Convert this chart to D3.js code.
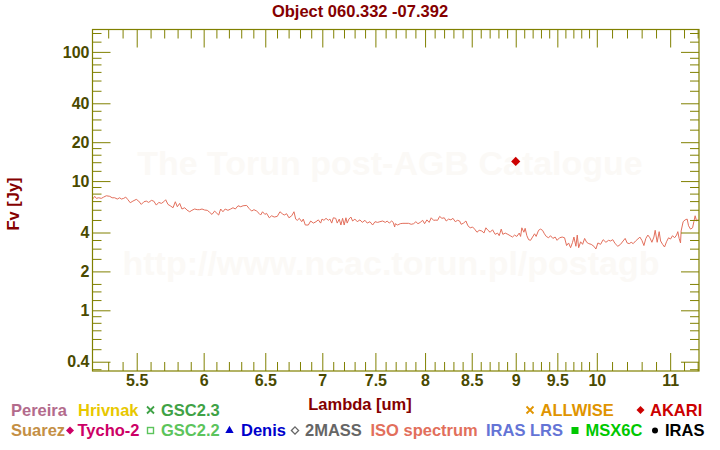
<!DOCTYPE html>
<html>
<head>
<meta charset="utf-8">
<script src="https://cdn.jsdelivr.net/npm/d3@7"></script>
<style>
  html, body { margin: 0; padding: 0; background: #ffffff; }
  svg { display: block; font-family: "Liberation Sans", Arial, Helvetica, sans-serif; font-weight: bold; }
</style>
</head>
<body>
<svg id="chart" width="720" height="450"></svg>
<script>
// ---------------- DATA ----------------
const chartTitle = "Object 060.332 -07.392";
const xTitle = "Lambda [um]";
const yTitle = "Fv [Jy]";
const watermarkLines = ["The Torun post-AGB Catalogue", "http://www.ncac.torun.pl/postagb"];

// ISO spectrum: wavelength (um)
const isoLambda = [
  5.194,5.208,5.219,5.235,5.253,5.269,5.287,5.311,5.327,5.345,5.363,5.380,5.391,5.408,5.422,5.438,5.454,5.473,5.497,5.514,
  5.533,5.552,5.569,5.586,5.606,5.623,5.642,5.660,5.679,5.697,5.711,5.728,5.745,5.766,5.783,5.798,5.816,5.833,5.854,5.871,
  5.892,5.909,5.930,5.950,5.969,5.987,6.008,6.028,6.047,6.065,6.086,6.104,6.118,6.134,6.152,6.170,6.192,6.215,6.233,6.252,
  6.274,6.296,6.315,6.345,6.364,6.386,6.405,6.428,6.447,6.461,6.477,6.497,6.511,6.534,6.554,6.576,6.602,6.625,6.645,6.662,
  6.683,6.703,6.727,6.747,6.762,6.776,6.794,6.815,6.829,6.847,6.874,6.895,6.919,6.943,6.964,6.985,6.997,7.015,7.034,7.055,
  7.070,7.086,7.101,7.123,7.137,7.156,7.171,7.187,7.202,7.218,7.230,7.246,7.265,7.281,7.303,7.325,7.351,7.373,7.399,7.421,
  7.447,7.473,7.496,7.522,7.544,7.571,7.597,7.616,7.636,7.660,7.676,7.690,7.696,7.720,7.746,7.773,7.804,7.831,7.857,7.882,
  7.905,7.926,7.950,7.975,7.995,8.019,8.043,8.064,8.089,8.113,8.131,8.153,8.177,8.202,8.223,8.248,8.273,8.295,8.320,8.345,
  8.367,8.384,8.410,8.436,8.458,8.483,8.510,8.532,8.558,8.583,8.613,8.636,8.658,8.681,8.706,8.733,8.763,8.790,8.809,8.832,
  8.851,8.878,8.909,8.935,8.963,8.986,9.013,9.041,9.057,9.072,9.096,9.111,9.131,9.152,9.175,9.199,9.223,9.242,9.271,9.295,
  9.319,9.342,9.364,9.393,9.416,9.445,9.473,9.497,9.527,9.560,9.590,9.615,9.640,9.665,9.690,9.707,9.732,9.749,9.767,9.792,
  9.817,9.843,9.869,9.897,9.927,9.962,9.988,10.014,10.049,10.083,10.119,10.154,10.180,10.210,10.241,10.277,10.313,10.348,10.375,10.402,
  10.430,10.457,10.484,10.517,10.548,10.575,10.603,10.631,10.658,10.686,10.714,10.742,10.770,10.788,10.816,10.844,10.864,10.892,10.920,10.948,
  10.977,11.005,11.034,11.063,11.092,11.110,11.129,11.149,11.158,11.187,11.216,11.246,11.266,11.295,11.325,11.344,11.363,11.384,11.403,11.422
];
// ISO spectrum: flux density (Jy)
const isoFlux = [
  7.26,7.62,7.35,7.43,7.35,7.52,7.70,7.62,7.43,7.43,7.26,7.43,7.26,7.35,7.52,7.17,6.80,7.00,7.22,7.00,
  6.60,6.92,7.00,6.84,7.09,7.00,6.52,6.84,6.72,6.92,7.17,6.60,6.44,6.22,6.92,6.33,6.72,6.08,6.22,5.97,
  5.79,5.94,6.08,6.01,6.01,6.08,5.97,5.94,5.73,5.52,5.86,5.63,5.46,6.08,5.79,6.08,5.94,6.08,6.22,6.08,
  6.44,6.33,6.44,6.48,6.15,5.86,6.01,5.86,5.63,5.46,5.79,5.52,5.63,5.20,5.39,5.27,5.33,5.79,5.59,5.46,
  5.59,5.20,5.39,5.79,5.08,4.97,5.15,4.85,5.08,4.57,4.57,4.91,4.73,4.85,5.01,4.73,5.08,4.97,5.15,4.97,
  5.08,4.73,5.20,5.15,4.73,5.08,4.57,5.15,4.57,5.20,4.73,5.08,5.27,4.91,5.08,4.85,5.01,4.79,4.97,4.73,
  4.85,4.57,4.85,4.79,4.85,4.91,4.79,4.91,4.73,4.91,4.79,4.41,4.68,4.57,4.68,4.71,4.71,4.71,4.63,4.68,
  4.85,4.68,4.79,4.97,4.68,5.01,4.79,5.20,4.97,4.99,4.97,5.33,5.15,5.20,4.91,5.08,5.01,5.15,4.85,4.97,
  4.91,4.63,4.73,4.91,4.51,4.35,4.41,4.25,4.02,4.16,4.11,3.96,4.35,4.16,4.02,4.20,3.87,3.96,3.78,4.25,
  3.87,3.96,3.87,3.78,3.69,3.82,3.73,3.96,3.73,4.35,4.02,4.31,3.78,3.52,3.48,3.69,3.91,3.73,4.16,4.25,
  4.16,3.91,3.73,3.64,3.78,3.60,3.69,3.48,3.64,3.69,3.64,3.17,3.32,3.05,3.36,3.69,3.13,3.82,3.05,3.39,
  3.24,3.60,3.36,3.28,3.24,3.13,2.98,3.32,3.24,3.52,3.36,3.48,3.44,3.52,3.28,3.13,3.24,3.44,3.60,3.32,
  3.28,3.36,3.28,3.44,3.56,3.69,3.48,3.17,3.60,3.82,3.64,3.36,3.69,4.16,3.36,4.06,3.44,3.24,3.09,3.39,
  3.64,3.56,3.78,3.64,3.82,4.06,3.60,3.32,4.11,4.85,5.01,5.08,4.51,4.25,4.35,4.85,5.39,4.91,5.01,4.97
];

// AKARI photometry
const akariLambda = [9.0];
const akariFlux = [14.2];

// Axis ticks
const xMajorTicks = [5.5, 6, 6.5, 7, 7.5, 8, 8.5, 9, 9.5, 10, 11];
const xMinorTicks = [5.3, 5.4, 5.6, 5.7, 5.8, 5.9, 6.1, 6.2, 6.3, 6.4, 6.6, 6.7, 6.8, 6.9,
  7.1, 7.2, 7.3, 7.4, 7.6, 7.7, 7.8, 7.9, 8.1, 8.2, 8.3, 8.4, 8.6, 8.7, 8.8, 8.9,
  9.1, 9.2, 9.3, 9.4, 9.6, 9.7, 9.8, 9.9, 10.2, 10.4, 10.6, 10.8, 11.2, 11.4];
const yMajorTicks = [0.4, 1, 2, 4, 10, 20, 40, 100];
const yMinorTicks = [0.35, 0.5, 0.6, 0.7, 0.8, 0.9, 1.2, 1.4, 1.6, 2.5, 3, 3.5,
  5, 6, 7, 8, 9, 12, 14, 16, 18, 25, 30, 35, 50, 60, 70, 80, 90, 120, 140];

// Legend
const legendRow1 = ["Pereira", "Hrivnak", "GSC2.3", "ALLWISE", "AKARI"];
const legendRow1Colors = ["#b36b8c", "#e8c800", "#3fa246", "#e09400", "#cc0000"];
const legendRow1Markers = ["none", "none", "cross", "cross", "diamond"];
const legendRow2 = ["Suarez", "Tycho-2", "GSC2.2", "Denis", "2MASS", "ISO spectrum", "IRAS LRS", "MSX6C", "IRAS"];
const legendRow2Colors = ["#c48f45", "#cc0066", "#5cc45c", "#0000cc", "#666666", "#e26f5c", "#6474d6", "#00c800", "#000000"];
const legendRow2Markers = ["none", "diamond", "square-open", "triangle", "diamond-open", "none", "none", "square", "circle"];

// ---------------- LAYOUT ----------------
const plot = { left: 92.5, right: 699, top: 29.5, bottom: 371 };
const axisColor = "#808000";
const tickLabelColor = "#4a4a00";
const titleColor = "#850000";

const svg = d3.select("#chart");

const x = d3.scaleLog().domain([5.193, 11.42]).range([plot.left, plot.right]);
const y = d3.scaleLog().domain([0.339, 149]).range([plot.bottom, plot.top]);

// watermark
const wm = svg.append("g").attr("fill", "#fbf9f6").attr("font-size", 34).attr("text-anchor", "middle");
wm.append("text").attr("x", 390).attr("y", 175).text(watermarkLines[0]);
wm.append("text").attr("x", 391).attr("y", 275).text(watermarkLines[1]);

// clip
svg.append("clipPath").attr("id", "clip").append("rect")
  .attr("x", plot.left).attr("y", plot.top)
  .attr("width", plot.right - plot.left).attr("height", plot.bottom - plot.top);

// ISO line
const isoData = isoLambda.map((l, i) => [l, isoFlux[i]]);
svg.append("path")
  .datum(isoData)
  .attr("clip-path", "url(#clip)")
  .attr("fill", "none")
  .attr("stroke", "#e26f5c")
  .attr("stroke-width", 1)
  .attr("d", d3.line().x(d => x(d[0])).y(d => y(d[1])));

function diamondPath(r) { return `M0,${-r}L${r},0L0,${r}L${-r},0Z`; }

// AKARI points
svg.append("g").selectAll("path")
  .data(akariLambda.map((l, i) => [l, akariFlux[i]]))
  .join("path")
  .attr("transform", d => `translate(${x(d[0])},${y(d[1])})`)
  .attr("d", diamondPath(4.6))
  .attr("fill", "#cc0000");

// axes
function styleAxis(g) {
  g.select(".domain").remove();
  g.selectAll(".tick line").attr("stroke", axisColor).attr("stroke-width", 1);
  g.selectAll(".tick text").attr("fill", tickLabelColor).attr("font-size", 16)
    .attr("font-family", "Liberation Sans, Arial, sans-serif").attr("font-weight", "bold");
}
const fmt = d => String(d);
const majorLen = 18, minorLen = 9;

// bottom
svg.append("g").attr("transform", `translate(0,${plot.bottom})`)
  .call(d3.axisBottom(x).tickValues(xMajorTicks).tickFormat(fmt).tickSizeInner(-majorLen).tickSizeOuter(0).tickPadding(4))
  .call(styleAxis);
svg.append("g").attr("transform", `translate(0,${plot.bottom})`)
  .call(d3.axisBottom(x).tickValues(xMinorTicks).tickFormat("").tickSizeInner(-minorLen).tickSizeOuter(0))
  .call(styleAxis);
// top
svg.append("g").attr("transform", `translate(0,${plot.top})`)
  .call(d3.axisTop(x).tickValues(xMajorTicks).tickFormat("").tickSizeInner(-majorLen).tickSizeOuter(0))
  .call(styleAxis);
svg.append("g").attr("transform", `translate(0,${plot.top})`)
  .call(d3.axisTop(x).tickValues(xMinorTicks).tickFormat("").tickSizeInner(-minorLen).tickSizeOuter(0))
  .call(styleAxis);
// left
svg.append("g").attr("transform", `translate(${plot.left},0)`)
  .call(d3.axisLeft(y).tickValues(yMajorTicks).tickFormat(fmt).tickSizeInner(-majorLen).tickSizeOuter(0).tickPadding(3))
  .call(styleAxis);
svg.append("g").attr("transform", `translate(${plot.left},0)`)
  .call(d3.axisLeft(y).tickValues(yMinorTicks).tickFormat("").tickSizeInner(-minorLen).tickSizeOuter(0))
  .call(styleAxis);
// right
svg.append("g").attr("transform", `translate(${plot.right},0)`)
  .call(d3.axisRight(y).tickValues(yMajorTicks).tickFormat("").tickSizeInner(-majorLen).tickSizeOuter(0))
  .call(styleAxis);
svg.append("g").attr("transform", `translate(${plot.right},0)`)
  .call(d3.axisRight(y).tickValues(yMinorTicks).tickFormat("").tickSizeInner(-minorLen).tickSizeOuter(0))
  .call(styleAxis);

// frame
svg.append("rect")
  .attr("x", plot.left).attr("y", plot.top)
  .attr("width", plot.right - plot.left).attr("height", plot.bottom - plot.top)
  .attr("fill", "none").attr("stroke", axisColor).attr("stroke-width", 1.2);

// titles
svg.append("text").attr("x", 360).attr("y", 16.5).attr("text-anchor", "middle")
  .attr("fill", titleColor).attr("font-size", 16.5).text(chartTitle);
svg.append("text").attr("x", 360).attr("y", 409.5).attr("text-anchor", "middle")
  .attr("fill", titleColor).attr("font-size", 16.5).text(xTitle);
svg.append("text").attr("transform", "translate(18.5,204) rotate(-90)").attr("text-anchor", "middle")
  .attr("fill", titleColor).attr("font-size", 16.5).text(yTitle);

// legend
const row1Layout = [
  { tx: 11 }, { tx: 78 }, { mx: 150.5, tx: 161 }, { mx: 530, tx: 540.5 }, { mx: 640.5, tx: 650 }
];
const row2Layout = [
  { tx: 11 }, { mx: 70, tx: 77.5 }, { mx: 150.5, tx: 161 }, { mx: 229.5, tx: 241 }, { mx: 295, tx: 305 },
  { tx: 370.5 }, { tx: 486 }, { mx: 575, tx: 585.5 }, { mx: 655, tx: 665 }
];
function drawMarker(g, type, cx, cy, color) {
  if (type === "none") return;
  if (type === "cross") {
    g.append("path").attr("d", `M${cx-3.5},${cy-3.5}L${cx+3.5},${cy+3.5}M${cx-3.5},${cy+3.5}L${cx+3.5},${cy-3.5}`)
      .attr("stroke", color).attr("stroke-width", 1.8).attr("fill", "none");
  } else if (type === "diamond") {
    g.append("path").attr("transform", `translate(${cx},${cy})`).attr("d", diamondPath(4)).attr("fill", color);
  } else if (type === "diamond-open") {
    g.append("path").attr("transform", `translate(${cx},${cy})`).attr("d", diamondPath(3.6))
      .attr("fill", "none").attr("stroke", color).attr("stroke-width", 1.3);
  } else if (type === "square-open") {
    g.append("rect").attr("x", cx - 3).attr("y", cy - 3).attr("width", 6).attr("height", 6)
      .attr("fill", "none").attr("stroke", color).attr("stroke-width", 1.4);
  } else if (type === "square") {
    g.append("rect").attr("x", cx - 3.5).attr("y", cy - 3.5).attr("width", 7).attr("height", 7).attr("fill", color);
  } else if (type === "triangle") {
    g.append("path").attr("transform", `translate(${cx},${cy})`).attr("d", d3.symbol(d3.symbolTriangle, 30)()).attr("fill", color);
  } else if (type === "circle") {
    g.append("circle").attr("cx", cx).attr("cy", cy).attr("r", 3).attr("fill", color);
  }
}
const leg = svg.append("g").attr("font-size", 16.5);
legendRow1.forEach((name, i) => {
  const L = row1Layout[i];
  drawMarker(leg, legendRow1Markers[i], L.mx, 410, legendRow1Colors[i]);
  leg.append("text").attr("x", L.tx).attr("y", 415.5).attr("fill", legendRow1Colors[i]).text(name);
});
legendRow2.forEach((name, i) => {
  const L = row2Layout[i];
  drawMarker(leg, legendRow2Markers[i], L.mx, 430.5, legendRow2Colors[i]);
  leg.append("text").attr("x", L.tx).attr("y", 435.5).attr("fill", legendRow2Colors[i]).text(name);
});
</script>
</body>
</html>
